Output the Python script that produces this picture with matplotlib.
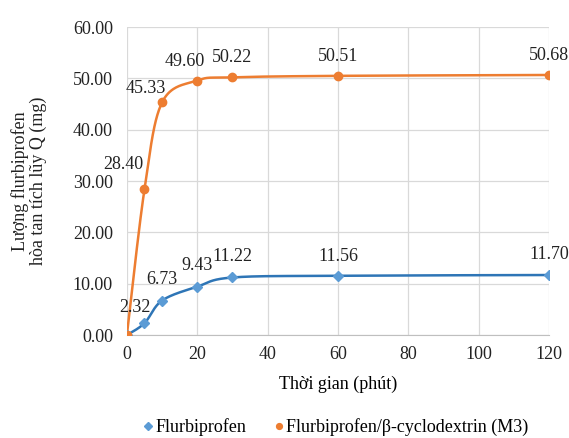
import numpy as np
import matplotlib.pyplot as plt
from matplotlib.ticker import FormatStrFormatter

plt.rcParams['font.family'] = ['Liberation Serif', 'DejaVu Serif']

## DATA
thoi_gian = [0, 5, 10, 20, 30, 60, 120]
flurbi = [0, 2.32, 6.73, 9.43, 11.22, 11.56, 11.70]
flurbi_cd = [0, 28.40, 45.33, 49.60, 50.22, 50.51, 50.68]

# label offsets (points) for each data label
off_blue = [None, (-7, 11), (0, 15), (0, 15), (0, 15), (0, 14), (0, 15)]
off_orange = [None, (-15, 18), (-12, 10), (-9, 14), (0, 14), (0, 14), (0, 14)]


def smooth(x, y, sx=422 / 120.0, sy=308 / 60.0, n=40):
    # excel-like smoothed line (bezier, catmull-rom control points) in pixel units
    p = np.column_stack([np.array(x) * sx, np.array(y) * sy])
    p = np.vstack([p[0], p, p[-1]])
    out = []
    for i in range(1, len(p) - 2):
        p0, p1, p2, p3 = p[i - 1], p[i], p[i + 1], p[i + 2]
        c1 = p1 + (p2 - p0) / 6
        c2 = p2 - (p3 - p1) / 6
        t = np.linspace(0, 1, n)[:, None]
        b = (1 - t) ** 3 * p1 + 3 * (1 - t) ** 2 * t * c1 + 3 * (1 - t) * t ** 2 * c2 + t ** 3 * p2
        out.append(b)
    out = np.vstack(out)
    return out[:, 0] / sx, out[:, 1] / sy


fig = plt.figure(figsize=(5.69, 4.38), dpi=100)
ax = fig.add_axes([0.223, 0.235, 0.742, 0.703])

xs, ys = smooth(thoi_gian, flurbi)
ax.plot(xs, ys, color="#2E75B6", lw=1.8, zorder=3)
ax.plot(thoi_gian, flurbi, ls="none", marker="D", ms=5.5, color="#5B9BD5",
        zorder=4, label="Flurbiprofen")

xs, ys = smooth(thoi_gian, flurbi_cd)
ax.plot(xs, ys, color="#ED7D31", lw=1.8, zorder=3)
ax.plot(thoi_gian, flurbi_cd, ls="none", marker="o", ms=6, color="#ED7D31",
        zorder=4, label="Flurbiprofen/β-cyclodextrin (M3)")

for t, v, o in zip(thoi_gian, flurbi, off_blue):
    if o:
        ax.annotate("%.2f" % v, (t, v), xytext=o, textcoords="offset points",
                    ha="center", va="center", fontsize=13, color="#222222",
                    annotation_clip=False)
for t, v, o in zip(thoi_gian, flurbi_cd, off_orange):
    if o:
        ax.annotate("%.2f" % v, (t, v), xytext=o, textcoords="offset points",
                    ha="center", va="center", fontsize=13, color="#222222",
                    annotation_clip=False)

ax.set_xlim(0, 120)
ax.set_ylim(0, 60)
ax.set_xticks(range(0, 121, 20))
ax.set_yticks(range(0, 61, 10))
ax.yaxis.set_major_formatter(FormatStrFormatter("%.2f"))
ax.grid(True, color="#d9d9d9", lw=0.9)
ax.set_axisbelow(True)
for s in ["top", "right", "left"]:
    ax.spines[s].set_visible(False)
ax.spines["bottom"].set_color("#bfbfbf")
ax.tick_params(length=0, labelsize=13, colors="#222222")
ax.tick_params(axis="y", pad=10)
ax.tick_params(axis="x", pad=8)

ax.set_xlabel("Thời gian (phút)", fontsize=13, labelpad=9)
fig.text(29 / 569, 0.587, "Lượng flurbiprofen\nhòa tan tích lũy Q (mg)", fontsize=13,
         rotation=90, ha="center", va="center", linespacing=1.05, color="#222222")

fig.legend(loc="center", ncol=2, frameon=False, fontsize=13,
           bbox_to_anchor=(333 / 569, 1 - 427 / 438), handletextpad=-0.2,
           columnspacing=1.2, markerscale=0.7, handlelength=1.2)

plt.savefig("out.png", dpi=100)
